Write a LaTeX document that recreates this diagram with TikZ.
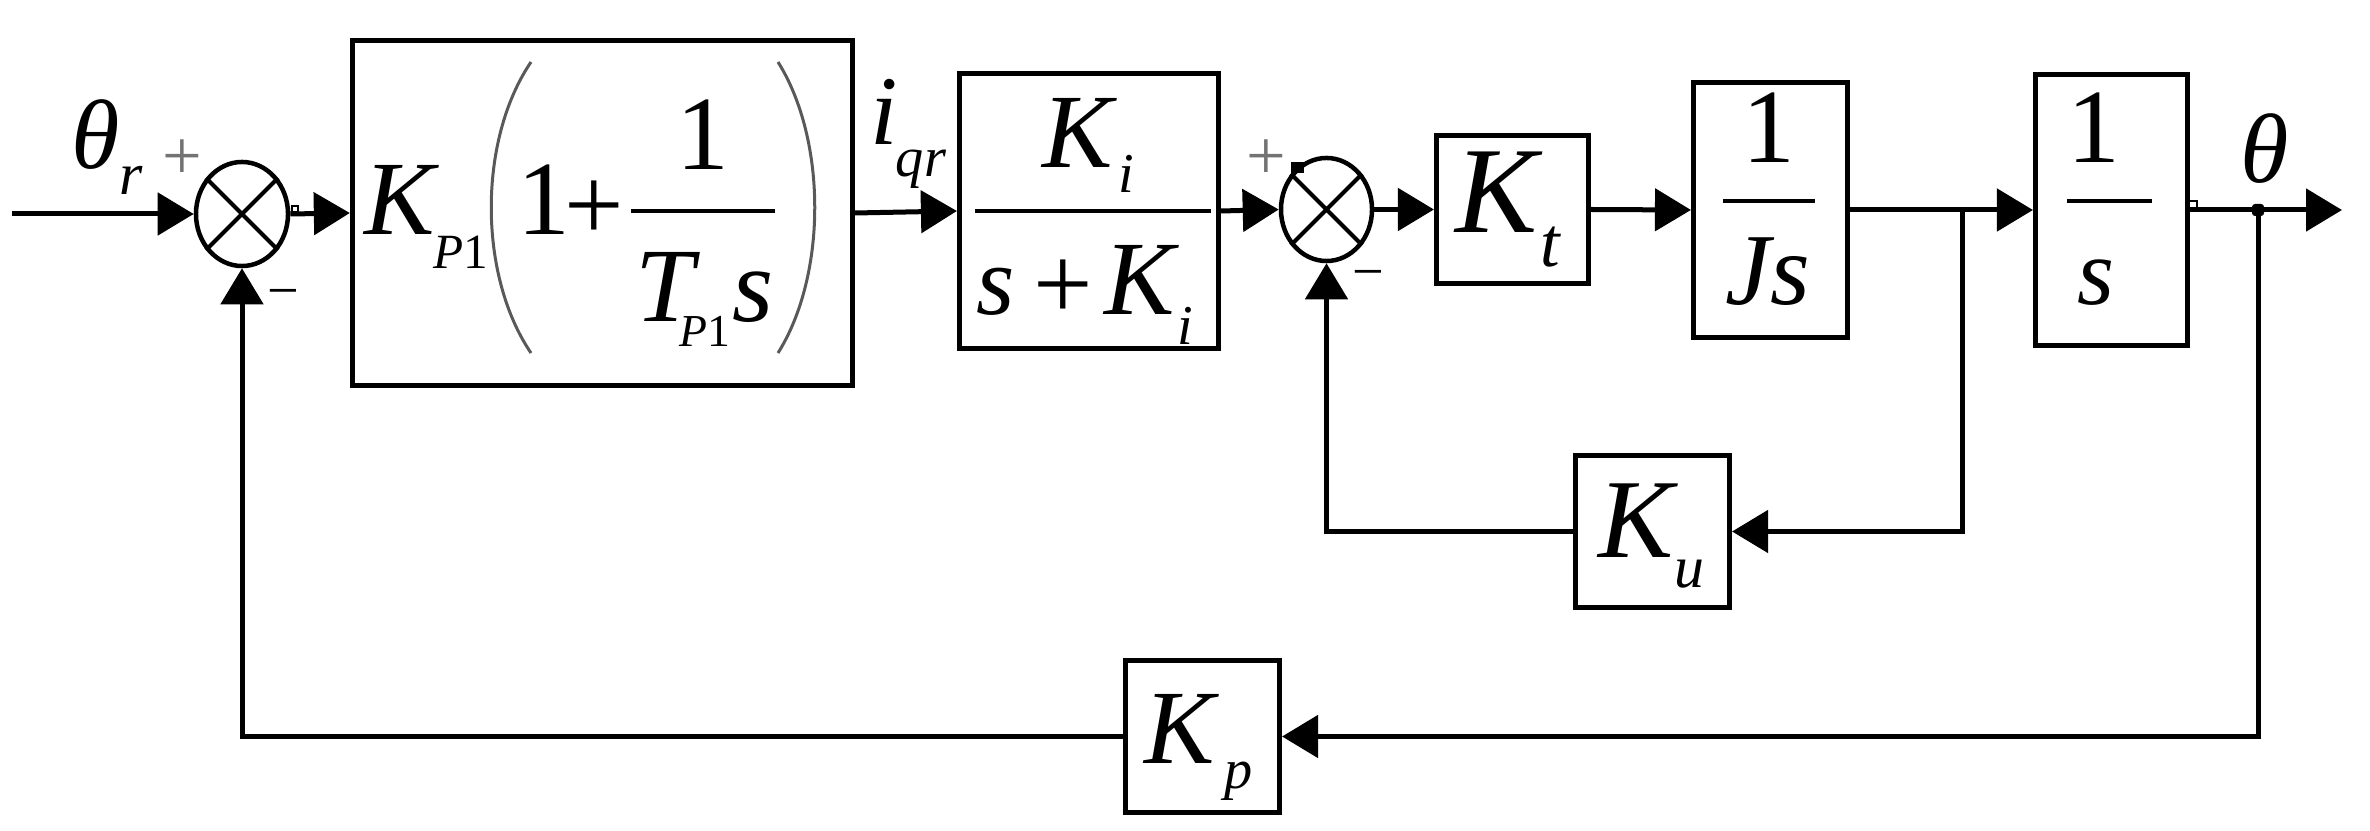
\documentclass[tikz,border=0pt]{standalone}
\usepackage{fontspec}
\setmainfont{Liberation Serif}
\usetikzlibrary{arrows.meta,shapes.geometric}
\newcommand{\fsz}[1]{\fontsize{#1}{#1}\selectfont}
\begin{document}
\begin{tikzpicture}[x=0.01cm,y=-0.01cm,
  blk/.style={draw, line width=0.05cm, inner sep=0pt},
  sumj/.style={draw, ellipse, line width=0.045cm, inner sep=0pt},
  con/.style={line width=0.05cm},
  arr/.style={con, -{Triangle[length=0.36cm,width=0.42cm]}},
  txt/.style={inner sep=0pt, anchor=base},
  sgn/.style={inner sep=0pt, anchor=center},
  bar/.style={line width=0.045cm},
  paren/.style={line width=0.03cm, black!65},
  ]
\useasboundingbox (0,0) rectangle (2370,831);

% blocks
\node[blk, minimum width=5.00cm, minimum height=3.45cm] (kp1) at (602.5,213) {};
\node[blk, minimum width=2.59cm, minimum height=2.75cm] (ki) at (1089,211) {};
\node[blk, minimum width=1.52cm, minimum height=1.48cm] (kt) at (1512.5,209.5) {};
\node[blk, minimum width=1.54cm, minimum height=2.55cm] (js) at (1770.5,210) {};
\node[blk, minimum width=1.52cm, minimum height=2.71cm] (int) at (2111.5,210) {};
\node[blk, minimum width=1.54cm, minimum height=1.52cm] (ku) at (1652.5,531.5) {};
\node[blk, minimum width=1.54cm, minimum height=1.52cm] (kpn) at (1202.5,736.5) {};

% summing junctions
\node[sumj, minimum width=0.92cm, minimum height=1.04cm] (s1) at (242,214) {};
\node[sumj, minimum width=0.91cm, minimum height=1.03cm] (s2) at (1326.5,209.5) {};
\draw[line width=0.04cm] (s1.45) -- (s1.225) (s1.135) -- (s1.315);
\draw[line width=0.04cm] (s2.45) -- (s2.225) (s2.135) -- (s2.315);

% connectors
\coordinate (in) at (12,214);
\coordinate (out) at (2342,210);
\coordinate (b1) at (1962,210);
\coordinate (b2) at (2258,210);
\draw[arr] (in) -- (s1.west);
\draw[arr] (s1.east) -- (kp1.west);
\draw[arr] (kp1.east) -- (ki.west);
\draw[arr] (ki.east) -- (s2.west);
\draw[arr] (s2.east) -- (kt.west);
\draw[arr] (kt.east) -- (js.west);
\draw[arr] (js.east) -- (int.west);
\draw[arr] (int.east) -- (out);
\draw[arr] (b1) |- (ku.east);
\draw[arr] (ku.west) -| (s2.south);
\draw[arr] (b2) |- (kpn.east);
\draw[arr] (kpn.west) -| (s1.south);

% small marks
\fill[rounded corners=0.03cm] (2252,204) rectangle (2264,216);
\fill (1291,162) rectangle (1304,173);
\draw[line width=0.012cm] (292,206) rectangle (298,212);
\draw[line width=0.012cm] (2189,201) rectangle (2197,208);

% K_P1 (1 + 1/(T_P1 s))
\node[txt, font=\fsz{30}\itshape] (kp1K) at (400,235) {K};
\node[txt, font=\fsz{14}] (kp1sub) at (461,269) {\textit{P}1};
\draw[paren] (531,62) .. controls (478,140) and (478,275) .. (531,353);
\node[txt, font=\fsz{30}] (kp1one) at (544,235) {1};
\node[txt, font=\fsz{30}] (kp1plus) at (594,241) {+};
\node[txt, font=\fsz{30}] (kp1num) at (703,170) {1};
\draw[bar] (631,211) -- (775,211);
\node[txt, font=\fsz{30}\itshape] (kp1T) at (665,322) {T};
\node[txt, font=\fsz{13}] (kp1Tsub) at (705,347) {\textit{P}1};
\node[txt, font=\fsz{30}\itshape] (kp1s) at (753,322) {s};
\draw[paren] (778,62) .. controls (827,140) and (827,275) .. (778,353);

% K_i/(s+K_i)
\node[txt, font=\fsz{30}\itshape] (kiK) at (1078,168) {K};
\node[txt, font=\fsz{16}\itshape] (kii) at (1126,193) {i};
\draw[bar] (975,211) -- (1211,211);
\node[txt, font=\fsz{28}\itshape] (kis) at (996,315) {s};
\node[txt, font=\fsz{30}] (kiplus) at (1063,320) {+};
\node[txt, font=\fsz{30}\itshape] (kiK2) at (1140,315) {K};
\node[txt, font=\fsz{16}\itshape] (kii2) at (1185,345) {i};

% K_t
\node[txt, font=\fsz{35}\itshape] (ktK) at (1497,233) {K};
\node[txt, font=\fsz{20}\itshape] (ktt) at (1550,267) {t};

% 1/Js
\node[txt, font=\fsz{30}] (jsone) at (1769,163) {1};
\draw[bar] (1723,201) -- (1815,201);
\node[txt, font=\fsz{29}\itshape] (jsden) at (1768,305) {Js};

% 1/s
\node[txt, font=\fsz{30}] (intone) at (2094,163) {1};
\draw[bar] (2067,201) -- (2152,201);
\node[txt, font=\fsz{27}\itshape] (ints) at (2096,305) {s};

% K_u, K_p
\node[txt, font=\fsz{32}\itshape] (kuK) at (1636,558) {K};
\node[txt, font=\fsz{17}\itshape] (kuu) at (1689,588) {u};
\node[txt, font=\fsz{30}\itshape] (kpK) at (1180,763) {K};
\node[txt, font=\fsz{16}\itshape] (kpp) at (1239,788) {p};

% signal labels
\node[txt, font=\fsz{28}\itshape] (thr) at (96,169) {θ};
\node[txt, font=\fsz{17}\itshape] (thrsub) at (131,195) {r};
\node[txt, font=\fsz{28}\itshape] (iq) at (884,145) {i};
\node[txt, font=\fsz{16}\itshape] (iqsub) at (921,177) {qr};
\node[txt, font=\fsz{28}\itshape] (th) at (2265,183) {θ};

% signs
\node[sgn, font=\fsz{20}, black!55] (p1) at (182,160) {+};
\node[sgn, font=\fsz{20}, black!55] (p2) at (1266,160) {+};
\node[sgn, font=\fsz{16}] (m1) at (283,299) {−};
\node[sgn, font=\fsz{16}] (m2) at (1368,280) {−};
\end{tikzpicture}
\end{document}
